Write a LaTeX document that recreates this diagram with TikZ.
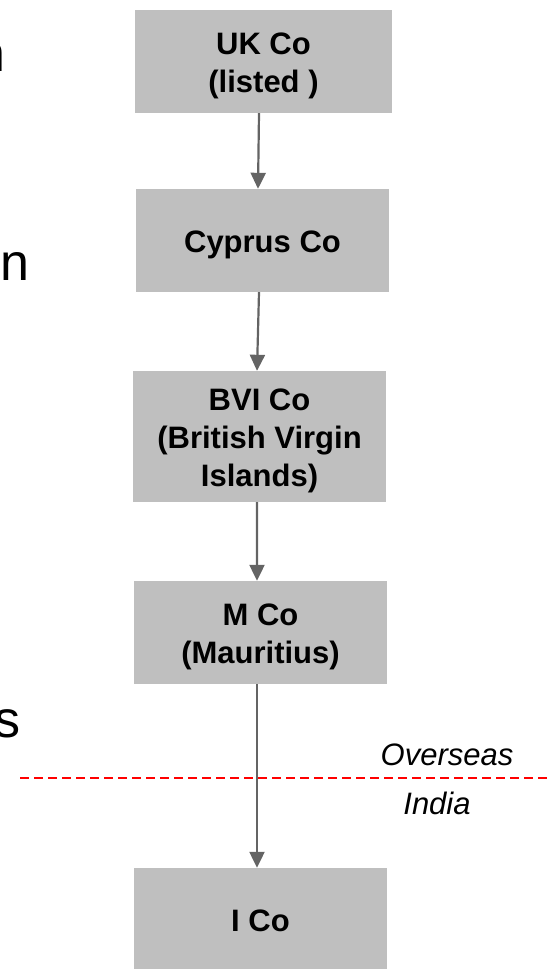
\documentclass[tikz,border=0pt]{standalone}
\usepackage{fontspec}
\setmainfont{Liberation Sans}
\usetikzlibrary{arrows.meta}
\definecolor{boxgray}{HTML}{BFBFBF}
\definecolor{arrowgray}{HTML}{646464}
\definecolor{divred}{HTML}{FF0000}
\begin{document}
\begin{tikzpicture}[x=1bp,y=-1bp,
  box/.style={rectangle, fill=boxgray, draw=none, inner sep=0pt},
  boxtext/.style={align=center, inner sep=0pt, font=\fontsize{31bp}{38bp}\selectfont\bfseries},
  sidelabel/.style={inner sep=0pt, font=\fontsize{31bp}{38bp}\selectfont\itshape},
  frag/.style={inner sep=0pt, font=\fontsize{52bp}{60bp}\selectfont},
  arr/.style={draw=arrowgray, line width=2.2bp, -{Triangle[width=15bp,length=16bp]}},
  divider/.style={draw=divred, line width=1.6bp, dash pattern=on 9bp off 5bp}]
\useasboundingbox (0,0) rectangle (550,969);
\clip (0,0) rectangle (550,969);

% partial words at the left edge
\node[frag, anchor=base west] (f1) at (-23.5,71) {n};
\node[frag, anchor=base west] (f2) at (0.4,280) {n};
\node[frag, anchor=base west] (f3) at (-5.7,737) {s};

% boxes
\node[box, minimum width=257bp, minimum height=103bp] (uk) at (263.5,61.5) {};
\node[box, minimum width=253bp, minimum height=103bp] (cy) at (262.5,240.5) {};
\node[box, minimum width=253bp, minimum height=131bp] (bvi) at (259.5,436.5) {};
\node[box, minimum width=253bp, minimum height=103bp] (m) at (260.5,632.5) {};
\node[box, minimum width=253bp, minimum height=104bp] (ico) at (260.5,920) {};

% box texts
\node[boxtext] (ukt) at ([yshift=-4bp]uk.center) {UK Co\\(listed )};
\node[boxtext] (cyt) at ([yshift=-4bp]cy.center) {Cyprus Co};
\node[boxtext] (bvit) at ([yshift=-4bp]bvi.center) {BVI Co\\(British Virgin\\Islands)};
\node[boxtext] (mt) at ([yshift=-4bp]m.center) {M Co\\(Mauritius)};
\node[boxtext] (icot) at ([yshift=-1bp]ico.center) {I Co};

% overseas / india divider
\coordinate (dl) at (20,778);
\coordinate (dr) at (552,778);
\draw[divider] (dl) -- (dr);
\node[sidelabel, anchor=base] (ovs) at (447,765) {Overseas};
\node[sidelabel, anchor=base] (ind) at (437,814) {India};

% connectors
\draw[arr] ([xshift=-4.5bp]uk.south) -- ([xshift=-4.5bp]cy.north);
\draw[arr] ([xshift=-3.5bp]cy.south) -- ([xshift=-2.5bp]bvi.north);
\draw[arr] ([xshift=-2.5bp]bvi.south) -- ([xshift=-3.5bp]m.north);
\draw[arr] ([xshift=-3.5bp]m.south) -- ([xshift=-3.5bp]ico.north);
\end{tikzpicture}
\end{document}
